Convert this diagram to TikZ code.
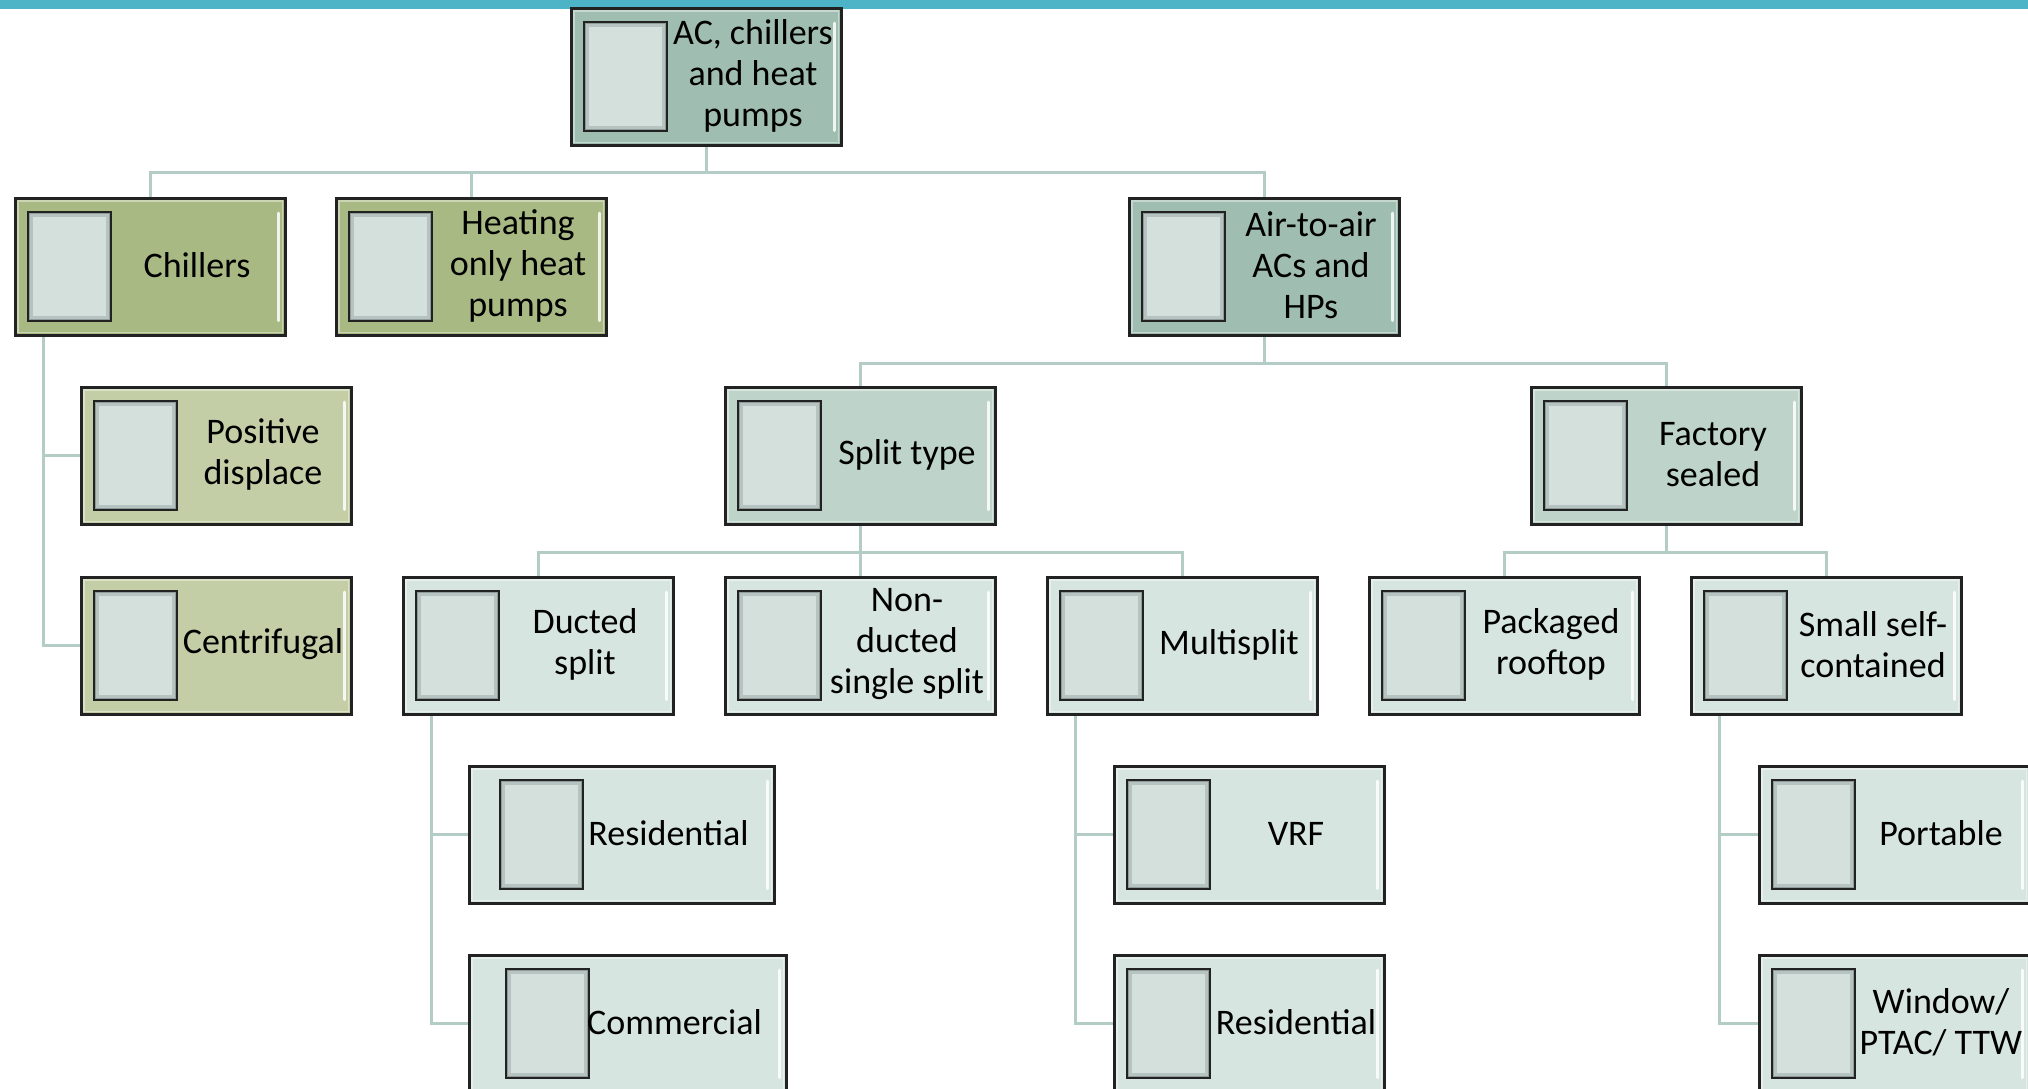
\documentclass[tikz,border=0pt]{standalone}
\usepackage{fontspec}
\setmainfont{Carlito}
\usetikzlibrary{calc,backgrounds}
\definecolor{topbar}{HTML}{4DB4C8}
\definecolor{lvA}{HTML}{A0BDB2}
\definecolor{lvB}{HTML}{BED4CB}
\definecolor{lvC}{HTML}{D7E5E0}
\definecolor{olA}{HTML}{A9B983}
\definecolor{olB}{HTML}{C3CEA6}
\definecolor{conn}{HTML}{B3CCC5}
\definecolor{imgedge}{HTML}{8E9C99}
\definecolor{imgmid}{HTML}{B6C3C0}
\definecolor{imgfill}{HTML}{D3E0DC}
\definecolor{border}{HTML}{222222}
\tikzset{
  boxst/.style={draw=border, line width=2.5pt, rectangle, anchor=north west, minimum height=137pt, inner sep=0pt},
  imgst/.style={draw=border, line width=2pt, fill=imgedge, rectangle, anchor=north west, minimum width=83pt, minimum height=109pt, inner sep=0pt},
  txtst/.style={align=center, font=\fontsize{36}{41}\selectfont, inner sep=0pt, text=black},
  connst/.style={draw=conn, line width=3pt},
}
\newcommand{\hvbox}[6]{%
  \node[boxst, fill=#5, minimum width=#4pt] (#1) at (#2,#3) {};
  \pgfmathsetmacro{\bxoff}{13+(#4-270)/2}
  \draw[white, opacity=.4, line width=1.5pt] ($(#1.north west)+(4,4)$) rectangle ($(#1.south east)+(-4,-4)$);
  \draw[white, opacity=.85, line width=3pt, line cap=round] ($(#1.north east)+(-8,16)$) -- ($(#1.south east)+(-8,-16)$);
  \node[imgst] (#1-img) at ($(#1.north west)+(\bxoff,14)$) {};
  \fill[imgmid] ($(#1-img.north west)+(3,3)$) rectangle ($(#1-img.south east)+(-3,-3)$);
  \fill[imgfill] ($(#1-img.north west)+(6,6)$) rectangle ($(#1-img.south east)+(-6,-6)$);
  \node[txtst] (#1-txt) at ($(#1.north west)+(\bxoff+170,68.5)$) {#6};
}
\begin{document}
\begin{tikzpicture}[x=1pt,y=-1pt]
\useasboundingbox (0,0) rectangle (2028,1088);
\clip (0,0) rectangle (2028,1088);
\hvbox{root}{570}{7}{270}{lvA}{AC, chillers\\and heat\\pumps}
\hvbox{chill}{14}{197}{270}{olA}{Chillers}
\hvbox{heat}{335}{197}{270}{olA}{Heating\\only heat\\pumps}
\hvbox{air}{1128}{197}{270}{lvA}{Air-to-air\\ACs and\\HPs}
\hvbox{pos}{80}{386}{270}{olB}{Positive\\displace}
\hvbox{cen}{80}{576}{270}{olB}{Centrifugal}
\hvbox{split}{724}{386}{270}{lvB}{Split type}
\hvbox{fact}{1530}{386}{270}{lvB}{Factory\\sealed}
\hvbox{duct}{402}{576}{270}{lvC}{Ducted\\split}
\hvbox{nond}{724}{576}{270}{lvC}{Non-\\ducted\\single split}
\hvbox{multi}{1046}{576}{270}{lvC}{Multisplit}
\hvbox{pack}{1368}{576}{270}{lvC}{Packaged\\rooftop}
\hvbox{small}{1690}{576}{270}{lvC}{Small self-\\contained}
\hvbox{resa}{468}{765}{305}{lvC}{Residential}
\hvbox{com}{468}{954}{317}{lvC}{Commercial}
\hvbox{vrf}{1113}{765}{270}{lvC}{VRF}
\hvbox{resb}{1113}{954}{270}{lvC}{Residential}
\hvbox{port}{1758}{765}{270}{lvC}{Portable}
\hvbox{win}{1758}{954}{270}{lvC}{Window/\\PTAC/ TTW}
\begin{pgfonlayer}{background}
  \fill[topbar] (0,0) rectangle (2028,9);
  \draw[connst] (root.south) -- ++(0,26) -| (chill.north);
  \draw[connst] (root.south) -- ++(0,26) -| (heat.north);
  \draw[connst] (root.south) -- ++(0,26) -| (air.north);
  \draw[connst] (air.south) -- ++(0,27) -| (split.north);
  \draw[connst] (air.south) -- ++(0,27) -| (fact.north);
  \draw[connst] (split.south) -- ++(0,27) -| (duct.north);
  \draw[connst] (split.south) -- ++(0,27) -| (nond.north);
  \draw[connst] (split.south) -- ++(0,27) -| (multi.north);
  \draw[connst] (fact.south) -- ++(0,27) -| (pack.north);
  \draw[connst] (fact.south) -- ++(0,27) -| (small.north);
  \draw[connst] ($(chill.south west)+(29,0)$) |- (pos.west);
  \draw[connst] ($(chill.south west)+(29,0)$) |- (cen.west);
  \draw[connst] ($(duct.south west)+(29,0)$) |- (resa.west);
  \draw[connst] ($(duct.south west)+(29,0)$) |- (com.west);
  \draw[connst] ($(multi.south west)+(29,0)$) |- (vrf.west);
  \draw[connst] ($(multi.south west)+(29,0)$) |- (resb.west);
  \draw[connst] ($(small.south west)+(29,0)$) |- (port.west);
  \draw[connst] ($(small.south west)+(29,0)$) |- (win.west);
\end{pgfonlayer}
\end{tikzpicture}
\end{document}
